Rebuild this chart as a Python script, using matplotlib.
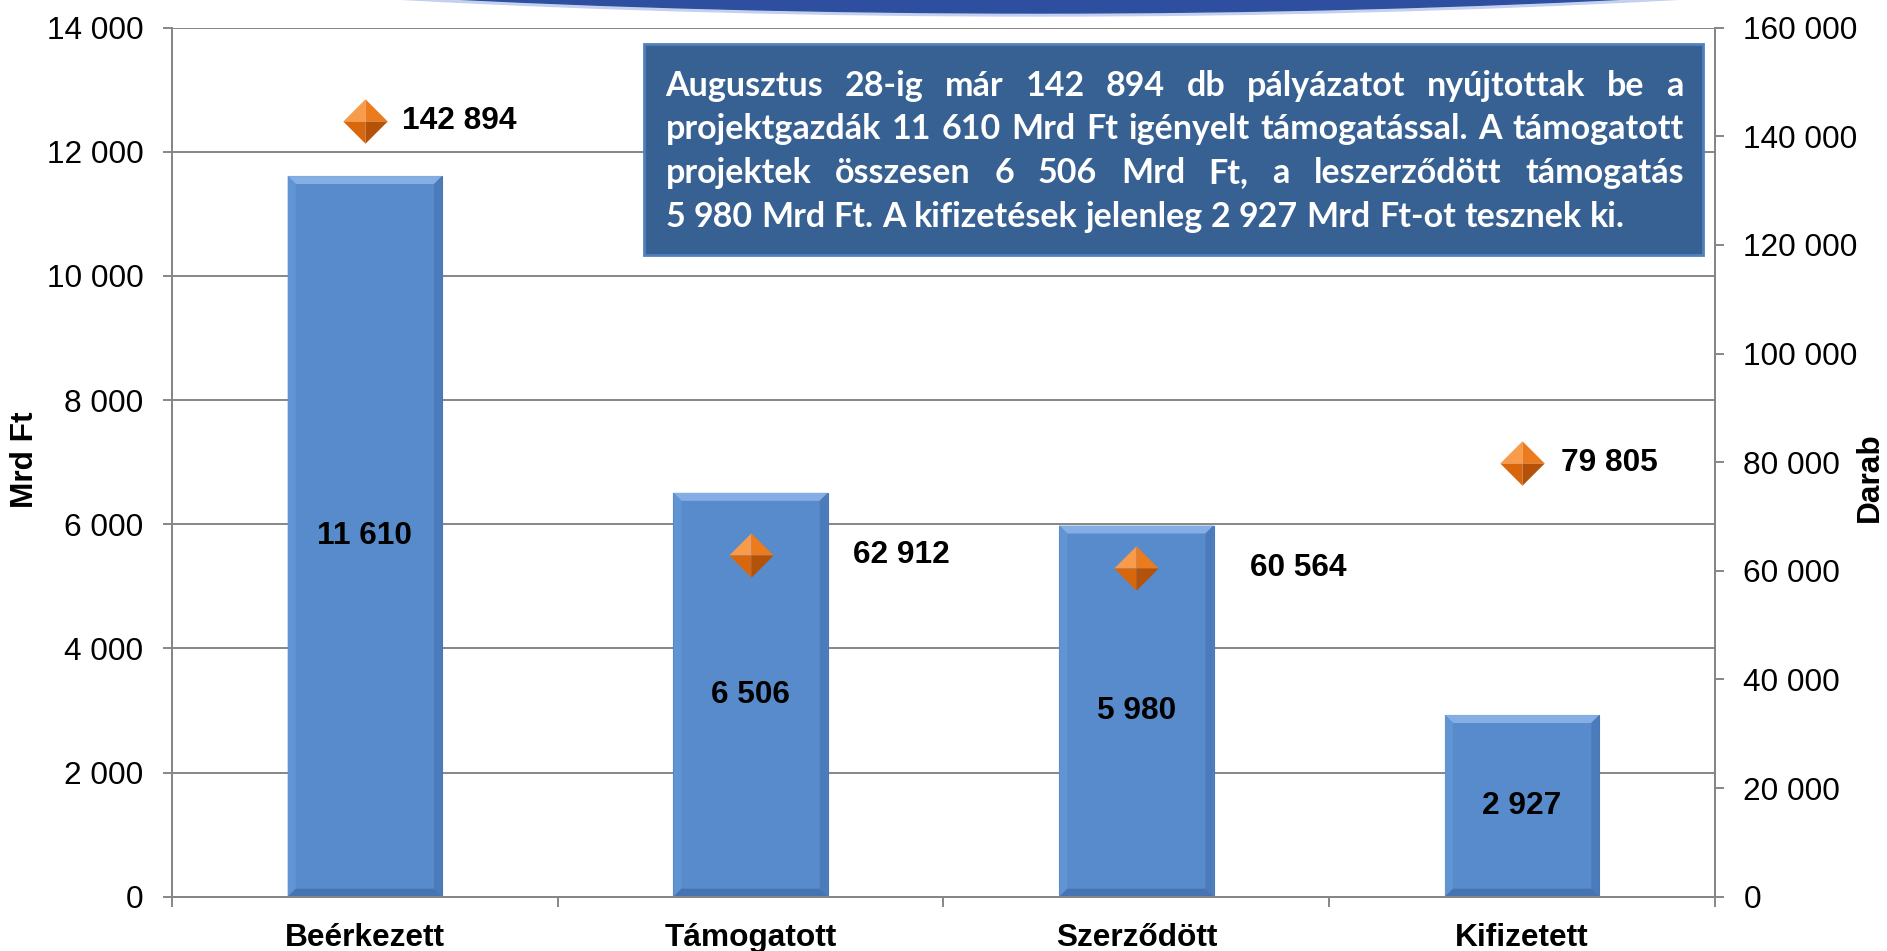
import matplotlib
matplotlib.use('Agg')
import matplotlib.pyplot as plt
from matplotlib.patches import Rectangle, Ellipse, Polygon
from matplotlib.path import Path

# Data
categories = ['Beérkezett', 'Támogatott', 'Szerződött', 'Kifizetett']
amount_mrd = [11610, 6506, 5980, 2927]
count_db = [142894, 62912, 60564, 79805]
left_ticks = [0, 2000, 4000, 6000, 8000, 10000, 12000, 14000]
right_ticks = [0, 20000, 40000, 60000, 80000, 100000, 120000, 140000, 160000]
box_lines = [
    'Augusztus 28-ig már 142 894 db pályázatot nyújtottak be a',
    'projektgazdák 11 610 Mrd Ft igényelt támogatással. A támogatott',
    'projektek összesen 6 506 Mrd Ft, a leszerződött támogatás',
    '5 980 Mrd Ft. A kifizetések jelenleg 2 927 Mrd Ft-ot tesznek ki.',
]

# label offsets (points) of the count labels, right of the diamonds
count_offsets = [27, 74, 82, 28]

W, H = 1887, 951
GREY = '#868686'
FS = 22.8
plt.rcParams['font.family'] = ['Liberation Sans', 'DejaVu Sans']


def fmt(v):
    return f'{v:,}'.replace(',', ' ')


fig = plt.figure(figsize=(W / 100, H / 100), dpi=100)

# banner arc at the top
fig.patches.append(Ellipse((1040 / W, 1 + 200 / H), 2 * 1660 / W, 2 * 216 / H,
                           transform=fig.transFigure, color='#C3D1EE', zorder=1))
fig.patches.append(Ellipse((1040 / W, 1 + 200 / H), 2 * 1645 / W, 2 * 213 / H,
                           transform=fig.transFigure, color='#2E4F9F', zorder=1))

ax = fig.add_axes([172 / W, 1 - 896.7 / H, (1715 - 172) / W, 869 / H])
ax.patch.set_alpha(0)
x = list(range(len(categories)))
bars = ax.bar(x, amount_mrd, width=0.4, color='#588BCB', edgecolor='#4A78B4',
              linewidth=0.8, zorder=2)
ax.set_xlim(-0.5, 3.5)
ax.set_ylim(0, 14000)
ax.set_yticks(left_ticks, [fmt(v) for v in left_ticks])
ax.set_xticks(x, categories)
ax.set_xticks([-0.5, 0.5, 1.5, 2.5, 3.5], minor=True)
ax.tick_params(axis='x', which='major', length=0, pad=19, labelsize=FS)
for lab in ax.get_xticklabels():
    lab.set_fontweight('bold')
ax.tick_params(axis='x', which='minor', length=7, width=1.4, color=GREY)
ax.tick_params(axis='y', length=6.5, width=1.4, color=GREY, pad=14, labelsize=FS)
ax.yaxis.grid(True, color=GREY, linewidth=1.4)
ax.set_axisbelow(True)
for s in ['left', 'right', 'bottom']:
    ax.spines[s].set_color(GREY)
    ax.spines[s].set_linewidth(1.4)
ax.spines['top'].set_visible(False)

# soft bevel on the bars
bb = ax.get_window_extent()
bev = 8
dx = bev / (bb.width / 4)
dy = bev / (bb.height / 14000)
for r in bars:
    x0, w, h = r.get_x(), r.get_width(), r.get_height()
    x1 = x0 + w
    faces = [
        ([(x0, h), (x1, h), (x1 - dx, h - dy), (x0 + dx, h - dy)], '#84AEE4'),
        ([(x0, 0), (x0, h), (x0 + dx, h - dy), (x0 + dx, dy)], '#6194D2'),
        ([(x1, 0), (x1, h), (x1 - dx, h - dy), (x1 - dx, dy)], '#4B7BBA'),
        ([(x0, 0), (x1, 0), (x1 - dx, dy), (x0 + dx, dy)], '#4673B2'),
    ]
    for pts, c in faces:
        ax.add_patch(Polygon(pts, closed=True, color=c, lw=0, zorder=2.5))

for i, v in enumerate(amount_mrd):
    ax.text(i, v / 2, fmt(v), ha='center', va='center', fontsize=FS,
            fontweight='bold', zorder=4)

# secondary axis with diamonds
ax2 = ax.twinx()
ax2.set_ylim(0, 160000)
ax2.set_yticks(right_ticks, [fmt(v) for v in right_ticks])
ax2.tick_params(axis='y', length=6.5, width=1.4, color=GREY, pad=14, labelsize=FS)
for s in ['left', 'right', 'bottom']:
    ax2.spines[s].set_color(GREY)
    ax2.spines[s].set_linewidth(1.4)
ax2.spines['top'].set_visible(False)

facets = [
    ([(0, 0), (-1, 0), (0, 1), (0, 0)], '#F89C4C'),
    ([(0, 0), (0, 1), (1, 0), (0, 0)], '#EC7B1E'),
    ([(0, 0), (-1, 0), (0, -1), (0, 0)], '#D8660C'),
    ([(0, 0), (0, -1), (1, 0), (0, 0)], '#B4520A'),
]
for verts, c in facets:
    ax2.plot(x, count_db, linestyle='none', marker=Path(verts), markersize=32,
             markerfacecolor=c, markeredgewidth=0, zorder=3)
for i, v in enumerate(count_db):
    ax2.annotate(fmt(v), (i, v), xytext=(count_offsets[i], 0),
                 textcoords='offset points', ha='left', va='center',
                 fontsize=FS, fontweight='bold')

fig.text(25 / W, 1 - 460 / H, 'Mrd Ft', rotation=90, ha='center', va='center',
         fontsize=FS, fontweight='bold')
fig.text(1870 / W, 1 - 477 / H, 'Darab', rotation=90, ha='center', va='center',
         fontsize=FS, fontweight='bold')

# text box
fig.patches.append(Rectangle((644 / W, 1 - 255 / H), (1703 - 644) / W, 211 / H,
                             transform=fig.transFigure, facecolor='#376193',
                             edgecolor='#4F81BD', linewidth=2, zorder=5))

renderer = fig.canvas.get_renderer()
tfont = dict(family=['Lato', 'DejaVu Sans'], weight='bold', color='white')


def width_px(s, size):
    t = fig.text(0, 0, s, fontsize=size, **tfont)
    w = t.get_window_extent(renderer).width
    t.remove()
    return w


size = 20 * 959 / width_px(box_lines[-1], 20)
left, right = 665.5, 1683.5
for k, line in enumerate(box_lines):
    words = line.split(' ')
    ws = [width_px(wd, size) for wd in words]
    if k < len(box_lines) - 1:
        gap = (right - left - sum(ws)) / (len(words) - 1)
    else:
        gap = (width_px(line, size) - sum(ws)) / (len(words) - 1)
    y = 85.5 + k * 43.7
    xp = left
    for wd, wdw in zip(words, ws):
        fig.text(xp / W, 1 - y / H, wd, fontsize=size, ha='left', va='center',
                 zorder=6, **tfont)
        xp += wdw + gap

fig.savefig('out.png', dpi=100)
